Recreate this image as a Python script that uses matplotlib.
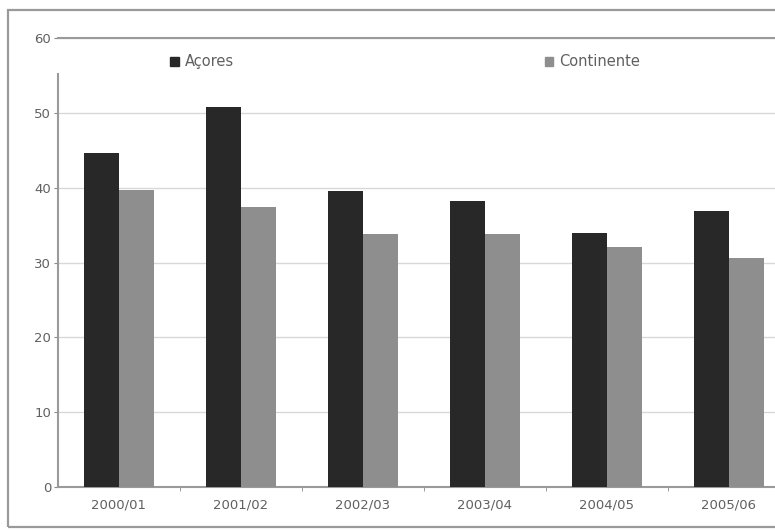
import matplotlib.pyplot as plt
from matplotlib.patches import Rectangle, Patch
import numpy as np

anos = ["2000/01", "2001/02", "2002/03", "2003/04", "2004/05", "2005/06"]
acores = [44.6, 50.8, 39.6, 38.2, 34.0, 36.9]
continente = [39.7, 37.4, 33.8, 33.8, 32.1, 30.6]

txt = "#606060"
fig = plt.figure(figsize=(7.75, 5.3), dpi=100)

# outer frame of the chart area (cut off at the right, like the scan)
fig.patches.append(Rectangle((8 / 775, 3 / 530), 1.0, 1 - 13 / 530,
                             transform=fig.transFigure, fill=False,
                             edgecolor="#9a9a9a", linewidth=1.6))

ax = fig.add_axes([58 / 775, 1 - 487 / 530, 732 / 775, 449 / 530])

x = np.arange(len(anos))
w = 0.285
ax.bar(x - w / 2, acores, w, color="#282828", zorder=3)
ax.bar(x + w / 2, continente, w, color="#8e8e8e", zorder=3)

ax.set_xlim(-0.5, len(anos) - 0.5)
ax.set_ylim(0, 60)
ax.set_yticks(range(0, 61, 10))
ax.yaxis.grid(True, color="#d8d8d8", linewidth=1.0, zorder=0)

ax.set_xticks(x)
ax.set_xticklabels(anos)
ax.set_xticks(x[:-1] + 0.5, minor=True)
ax.tick_params(axis="x", which="major", length=0, pad=8, labelsize=9.5, labelcolor=txt)
ax.tick_params(axis="x", which="minor", length=3, color="#888888")
ax.tick_params(axis="y", length=3, color="#888888", labelsize=9.5, labelcolor=txt, pad=2)

ax.spines["right"].set_visible(False)
for s in ["top", "left", "bottom"]:
    ax.spines[s].set_color("#9a9a9a")
    ax.spines[s].set_linewidth(1.5)
ax.spines["left"].set_bounds(0, 55.2)

leg1 = ax.legend(handles=[Patch(color="#282828", label="Açores")],
                 loc="center left", bbox_to_anchor=(0.135, 0.947),
                 frameon=False, fontsize=10.5, handlelength=0.6, handleheight=0.6,
                 handletextpad=0.4, labelcolor=txt)
ax.add_artist(leg1)
ax.legend(handles=[Patch(color="#8e8e8e", label="Continente")],
          loc="center left", bbox_to_anchor=(0.647, 0.947),
          frameon=False, fontsize=10.5, handlelength=0.6, handleheight=0.6,
          handletextpad=0.4, labelcolor=txt)

fig.savefig("out.png", dpi=100)
